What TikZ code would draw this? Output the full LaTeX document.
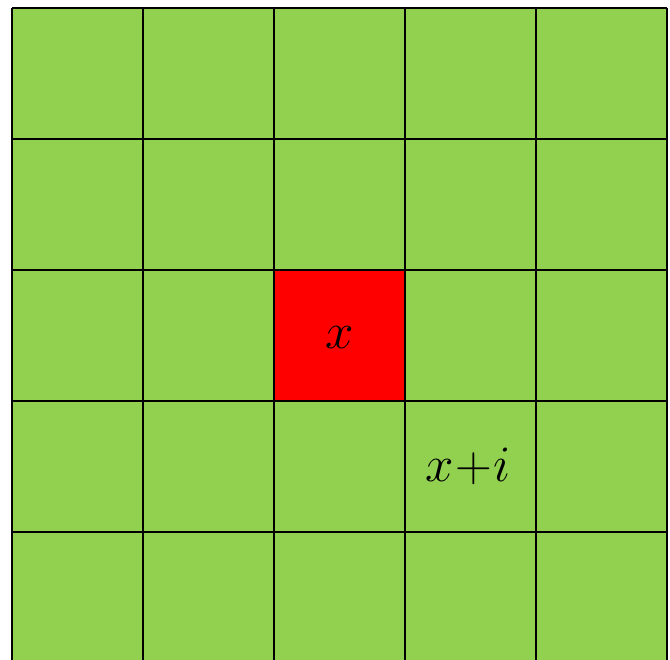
\documentclass[tikz,border=0pt]{standalone}
\usepackage{fix-cm}
\definecolor{cellgreen}{HTML}{92D050}
\definecolor{cellred}{HTML}{FF0000}
\begin{document}
\begin{tikzpicture}[x=1pt,y=-1pt,
  gridline/.style={line width=2pt,black},
  lbl/.style={font=\fontsize{51}{60}\selectfont,inner sep=0pt}]
\useasboundingbox (0,0) rectangle (670,660);
\clip (0,0) rectangle (670,660);
\fill[cellgreen] (12,8) rectangle (667,663);
\fill[cellred] (274,270) rectangle (405,401);
\foreach \i in {0,...,5} {
  \draw[gridline] (12+131*\i,8) -- (12+131*\i,663);
  \draw[gridline] (12,8+131*\i) -- (667,8+131*\i);
}
\node[lbl] (x) at (339.5,338) {$x$};
\node[lbl] (xi) at (468,466) {$x\mkern-3.5mu+\mkern-3.5mu i$};
\end{tikzpicture}
\end{document}
